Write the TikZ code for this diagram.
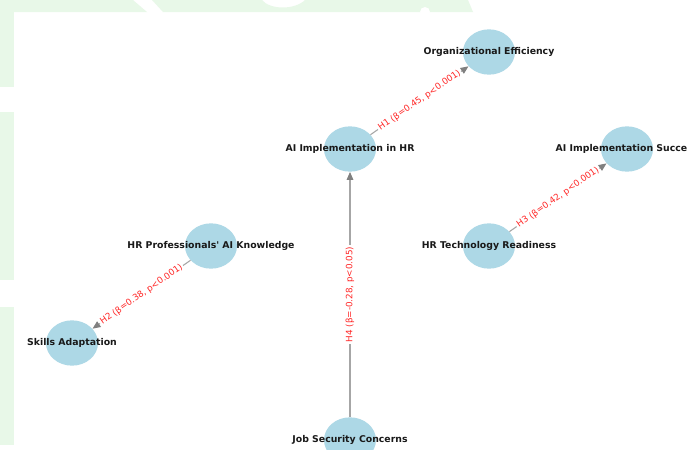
\documentclass[tikz,border=0pt]{standalone}
\usepackage{fontspec}
\setmainfont{DejaVu Sans}
\newfontfamily\plainsans{DejaVu Sans}
\usetikzlibrary{shapes.geometric,arrows.meta}
\definecolor{nodeblue}{HTML}{ADD8E6}
\definecolor{bggreen}{HTML}{E8F8E8}
\begin{document}
\begin{tikzpicture}[x=0.75pt,y=-0.75pt,
  concept/.style={ellipse, fill=nodeblue, draw=none, minimum width=39pt, minimum height=34pt, inner sep=0pt},
  conceptlabel/.style={font=\plainsans\bfseries\fontsize{7}{8}\selectfont, text=black!90, inner sep=0pt},
  hyp/.style={draw=gray!70, line width=0.8pt, -{Triangle[length=6pt,width=5pt,color=gray]}},
  hyplabel/.style={midway, sloped, fill=white, inner sep=1pt, text=red!85, font=\fontsize{6.6}{7.5}\selectfont}]
\useasboundingbox (0,0) rectangle (697,450);
\clip (0,0) rectangle (697,450);
% background watermark
\fill[white] (0,0) rectangle (697,450);
\fill[bggreen] (0,0) rectangle (14,87);
\fill[bggreen] (0,112) rectangle (14,280);
\fill[bggreen] (0,307) rectangle (14,445);
\fill[bggreen] (0,0) -- (133,0) -- (147,12) -- (0,12) -- cycle;
\fill[bggreen] (152,0) -- (262,0) .. controls (270,10) and (295,10) .. (305,0) -- (468,0) -- (473,12) -- (163,12) -- cycle;
\fill[white] (425,12) circle (5);
% nodes
\node[concept] (oe) at (489,52) {};
\node[concept] (ai) at (350,149) {};
\node[concept] (as) at (627,149) {};
\node[concept] (hk) at (211,246) {};
\node[concept] (tr) at (489,246) {};
\node[concept] (sa) at (72,343) {};
\node[concept] (js) at (350,440) {};
% edges
\draw[hyp] (ai) -- node[hyplabel]{H1 (β=0.45, p<0.001)} (oe);
\draw[hyp] (hk) -- node[hyplabel]{H2 (β=0.38, p<0.001)} (sa);
\draw[hyp] (tr) -- node[hyplabel]{H3 (β=0.42, p<0.001)} (as);
\draw[hyp] (js) -- node[hyplabel]{H4 (β=-0.28, p<0.05)} (ai);
% labels
\node[conceptlabel] (oe-t) at (oe) {Organizational Efficiency};
\node[conceptlabel] (ai-t) at (ai) {AI Implementation in HR};
\begin{scope}
  \clip (14,0) rectangle (686,450);
  \node[conceptlabel] (as-t) at (as) {AI Implementation Success};
\end{scope}
\node[conceptlabel] (hk-t) at (hk) {HR Professionals' AI Knowledge};
\node[conceptlabel] (tr-t) at (tr) {HR Technology Readiness};
\node[conceptlabel] (sa-t) at (sa) {Skills Adaptation};
\node[conceptlabel] (js-t) at (js) {Job Security Concerns};
\end{tikzpicture}
\end{document}
